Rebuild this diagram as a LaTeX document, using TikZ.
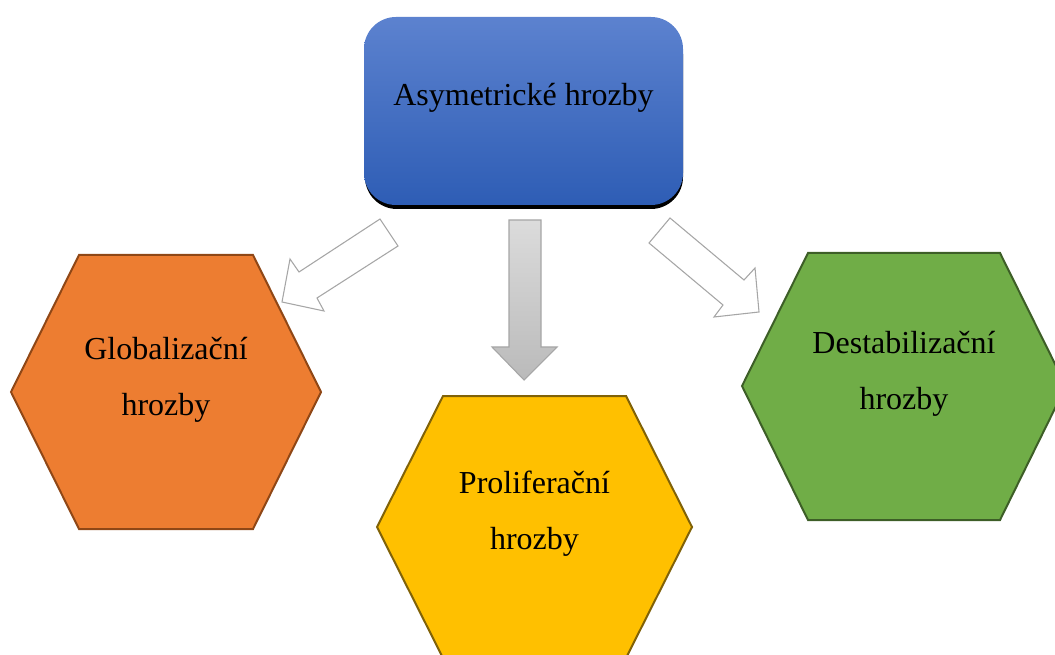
\documentclass[tikz,border=0pt]{standalone}
\usepackage{fontspec}
\setmainfont{Liberation Serif}
\definecolor{asymtop}{HTML}{5C82CF}
\definecolor{asymbot}{HTML}{2E5DB5}
\definecolor{globfill}{HTML}{ED7D31}
\definecolor{globline}{HTML}{8F4716}
\definecolor{prolfill}{HTML}{FFC000}
\definecolor{prolline}{HTML}{806208}
\definecolor{destfill}{HTML}{70AD47}
\definecolor{destline}{HTML}{3D5E27}
\definecolor{arrowline}{HTML}{A6A6A6}
\tikzset{
    hexa/.style={line width=1.5pt, line join=miter},
    hollow/.style={draw=arrowline, fill=white, line width=0.8pt, line join=miter},
    filled/.style={draw=arrowline, top color=black!14, bottom color=black!27, line width=0.8pt, line join=miter}
}
\begin{document}
    \begin{tikzpicture}[x=0.75pt,y=-0.75pt]
        \useasboundingbox (0,0) rectangle (1055,655);
        \clip (0,0) rectangle (1055,655);
        \fill[black, rounded corners=24pt] (365,22) rectangle (683,209);
        \shade[top color=asymtop, bottom color=asymbot, rounded corners=24pt] (364,17) rectangle (683,205);
        \filldraw[hexa, fill=globfill, draw=globline]
            (11,392) -- (79,255) -- (253,255) -- (321,392) -- (253,529) -- (79,529) -- cycle;
        \filldraw[hexa, fill=prolfill, draw=prolline]
            (377,527) -- (443,396) -- (626,396) -- (692,527) -- (626,658) -- (443,658) -- cycle;
        \filldraw[hexa, fill=destfill, draw=destline]
            (742,386) -- (808,253) -- (1000,253) -- (1066,386) -- (1000,520) -- (808,520) -- cycle;
        \draw[hollow] (380,219) -- (398,246) -- (317,298) -- (324,311) -- (282,302) -- (290,259) -- (299,272) -- cycle;
        \draw[hollow] (670,218) -- (744,280) -- (755,268) -- (759,312) -- (714,317) -- (723,305) -- (649,243) -- cycle;
        \draw[filled] (509,220) -- (541,220) -- (541,347) -- (557,347) -- (524,380) -- (492,347) -- (509,347) -- cycle;
        \begin{scope}[every node/.style={align=center, inner sep=0pt, font=\fontsize{24}{42}\selectfont}]
            \node (asym) at (523.5,97.5) {Asymetrické hrozby};
            \node (glob) at (166,380) {Globalizační\\hrozby};
            \node (prol) at (534.5,514) {Proliferační\\hrozby};
            \node (dest) at (904,374) {Destabilizační\\hrozby};
        \end{scope}
    \end{tikzpicture}
\end{document}
